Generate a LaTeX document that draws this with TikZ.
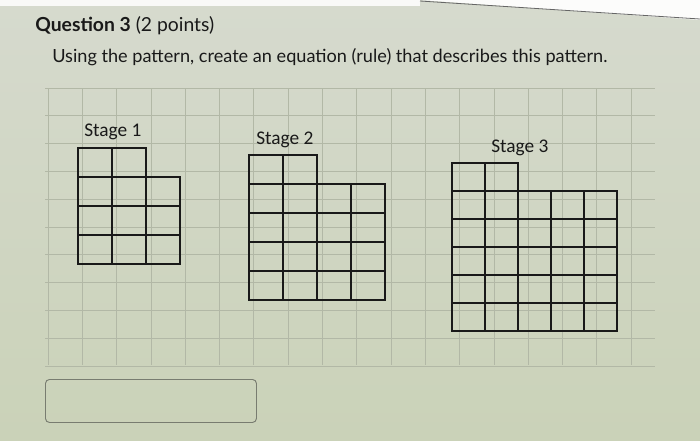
\documentclass[tikz,border=0pt]{standalone}
\usepackage{fontspec}
\setmainfont{Lato}
\newfontfamily\stagefont{Carlito}
\definecolor{bgtop}{RGB}{214,218,206}
\definecolor{bgbot}{RGB}{202,210,184}
\definecolor{faint}{RGB}{178,184,166}
\definecolor{inkk}{RGB}{25,25,25}
\definecolor{boxline}{RGB}{120,124,112}
\tikzset{
  cellline/.style={draw=inkk, line width=1.5pt, line cap=rect},
  faintline/.style={draw=faint, line width=0.5pt},
  stagelabel/.style={font=\stagefont\fontsize{14.5}{16}\selectfont, text=inkk, inner sep=0pt, anchor=west},
}
% stage grid: #1 name, #2 x0, #3 y0, #4 w, #5 h, #6 n
\newcommand{\stagegrid}[6]{%
  \begin{scope}[shift={(#2,#3)}]
    \coordinate (#1-tl) at (0,0);
    \draw[cellline] (0,0) -- ({2*#4},0);
    \foreach \r in {1,...,#6} {\draw[cellline] (0,{\r*#5}) -- ({#6*#4},{\r*#5});}
    \draw[cellline] (0,{(#6+1)*#5}) -- ({#6*#4},{(#6+1)*#5});
    \foreach \c in {0,1,2} {\draw[cellline] ({\c*#4},0) -- ({\c*#4},{(#6+1)*#5});}
    \foreach \c in {3,...,#6} {\draw[cellline] ({\c*#4},{#5}) -- ({\c*#4},{(#6+1)*#5});}
  \end{scope}}
\begin{document}
\begin{tikzpicture}[x=0.75pt,y=-0.75pt]
\useasboundingbox (0,0) rectangle (700,440);
\shade[top color=bgtop, bottom color=bgbot] (0,0) rectangle (700,440);
% screen edge at top right
\fill[white!92!bgtop] (0,0) -- (420,0) -- (700,20) -- (700,0) -- cycle;
\fill[white!85!bgtop] (0,0) rectangle (420,6);
\draw[black!60, line width=0.6pt] (420,1) -- (700,19);
% faint spreadsheet grid
\foreach \k in {0,...,17} {\draw[faintline] ({48+34.3*\k},88) -- ({48+34.3*\k},365);}
\foreach \k in {0,...,10} {\draw[faintline] (45,{88+27.8*\k}) -- (655,{88+27.8*\k});}
% title
\node[anchor=west, inner sep=0pt, text=inkk] (title) at (35,26) {\fontsize{14.5}{17}\selectfont\textbf{Question 3} (2 points)};
\node[anchor=west, inner sep=0pt, text=inkk] (prompt) at (52,57) {\fontsize{13.6}{16}\selectfont Using the pattern, create an equation (rule) that describes this pattern.};
% stage labels
\node[stagelabel] (s1) at (84,132) {Stage 1};
\node[stagelabel] (s2) at (256,140) {Stage 2};
\node[stagelabel] (s3) at (491,148) {Stage 3};
% grids
\stagegrid{g1}{78}{148}{34}{29}{3}
\stagegrid{g2}{249}{155}{34}{29}{4}
\stagegrid{g3}{452}{163}{33}{28}{5}
% answer box
\node[draw=boxline, line width=0.7pt, rounded corners=3pt, minimum width=211*0.75pt, minimum height=43*0.75pt, anchor=north west, inner sep=0pt] (answer) at (45,379) {};
\end{tikzpicture}
\end{document}
